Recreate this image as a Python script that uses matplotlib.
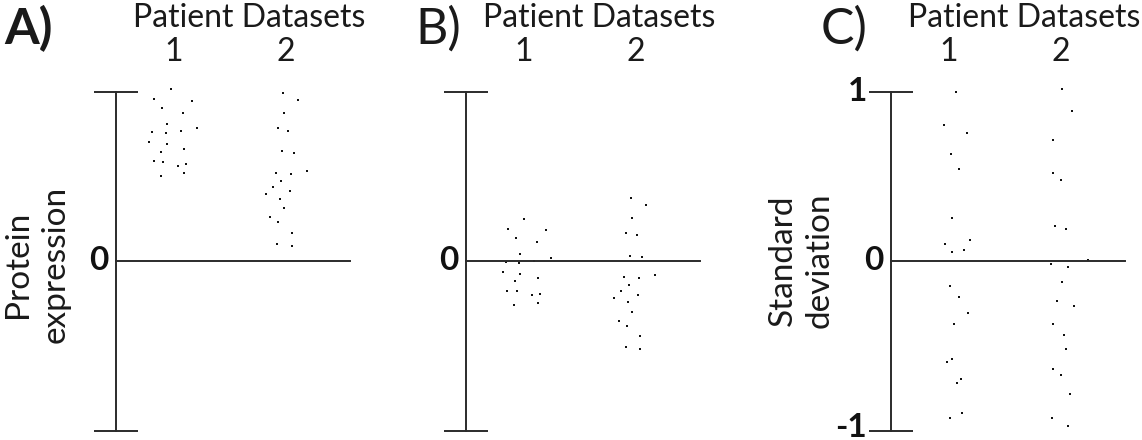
import matplotlib
matplotlib.use("Agg")
import matplotlib.pyplot as plt
from matplotlib.transforms import blended_transform_factory

plt.rcParams['font.family'] = ['Lato', 'DejaVu Sans']

# ---- data (y values, x jitter around the category) ----
categories = [1, 2]
cat_labels = ['1', '2']

# A) protein expression
a1_y = [1.015, 0.956, 0.946, 0.903, 0.875, 0.808, 0.783, 0.759, 0.755, 0.765,
        0.702, 0.688, 0.645, 0.663, 0.588, 0.586, 0.572, 0.562, 0.503, 0.519]
a1_dx = [-0.021, -0.172, 0.169, -0.098, 0.089, -0.059, 0.213, -0.186, -0.068, 0.065,
         -0.213, -0.059, -0.107, 0.098, -0.172, -0.092, 0.112, 0.044, -0.112, 0.098]
a2_y = [0.993, 0.948, 0.871, 0.785, 0.769, 0.649, 0.637, 0.533, 0.521, 0.511, 0.474,
        0.435, 0.411, 0.395, 0.368, 0.313, 0.258, 0.228, 0.167, 0.102, 0.087]
a2_dx = [-0.030, 0.104, -0.021, -0.068, 0.021, -0.036, 0.068, 0.183, -0.089, 0.041, -0.044,
         -0.118, 0.036, -0.180, -0.056, -0.021, -0.139, -0.068, 0.050, -0.077, 0.050]

# B) centred data
b1_y = [0.248, 0.191, 0.181, 0.138, 0.112, 0.041, -0.006, -0.010, 0.002, 0.016,
        -0.063, -0.079, -0.102, -0.120, -0.177, -0.177, -0.203, -0.193, -0.246, -0.260]
b1_dx = [0.009, -0.139, 0.202, -0.068, 0.119, -0.030, -0.157, -0.036, 0.098, 0.243,
         -0.184, -0.030, 0.134, -0.077, -0.142, -0.059, 0.074, 0.151, 0.134, -0.086]
b2_y = [0.374, 0.328, 0.252, 0.165, 0.151, 0.029, 0.022, -0.081, -0.094, -0.102, -0.140,
        -0.179, -0.201, -0.220, -0.242, -0.299, -0.354, -0.383, -0.441, -0.505, -0.521]
b2_dx = [-0.045, 0.089, -0.036, -0.086, 0.006, -0.050, 0.056, 0.166, -0.107, 0.024, -0.065,
         -0.134, 0.018, -0.196, -0.071, -0.036, -0.151, -0.083, 0.036, -0.092, 0.033]

# C) standard deviation
c1_y = [1.000, 0.800, 0.753, 0.632, 0.543, 0.253, 0.099, 0.123, 0.051, 0.063,
        -0.148, -0.215, -0.304, -0.370, -0.593, -0.581, -0.719, -0.696, -0.927, -0.895]
c1_dx = [0.065, -0.038, 0.163, 0.021, 0.092, 0.030, -0.030, 0.192, 0.036, 0.142,
         0.015, 0.095, 0.175, 0.053, -0.009, 0.030, 0.074, 0.112, 0.015, 0.121]
c2_y = [1.014, 0.887, 0.711, 0.522, 0.476, 0.209, 0.186, -0.018, 0.008, -0.038, -0.125,
        -0.237, -0.267, -0.372, -0.439, -0.518, -0.636, -0.670, -0.785, -0.929, -0.974]
c2_dx = [0.012, 0.101, -0.068, -0.068, 0.000, -0.056, 0.044, -0.086, 0.243, 0.065, 0.012,
         -0.038, 0.115, -0.068, 0.030, 0.044, -0.068, -0.003, 0.080, -0.080, 0.065]

panels = [
    ('A)', 'bold', ['', '0', ''], [(a1_y, a1_dx), (a2_y, a2_dx)]),
    ('B)', 'normal', ['', '0', ''], [(b1_y, b1_dx), (b2_y, b2_dx)]),
    ('C)', 'normal', ['-1', '0', '1'], [(c1_y, c1_dx), (c2_y, c2_dx)]),
]

# ---- layout (pixels) ----
W, H = 1142, 440
S = 112.7      # px per category unit
U = 169.5      # px per y unit
Z = 261        # zero line, px from top
cat1_px = [173.3, 523.3, 948.3]
XLIM = (0.3, 2.7)
YLIM = (-1.08, 1.08)
AX_X = 0.49
AX_END = 2.57
ink = '#2b2b2b'
txt_col = '#1a1a1a'

fig = plt.figure(figsize=(W / 100, H / 100), dpi=100)

for i, (letter, wt, ylabels, groups) in enumerate(panels):
    left = cat1_px[i] - (1 - XLIM[0]) * S
    width = (XLIM[1] - XLIM[0]) * S
    height = (YLIM[1] - YLIM[0]) * U
    bottom = H - (Z + (-YLIM[0]) * U)
    ax = fig.add_axes([left / W, bottom / H, width / W, height / H])
    ax.set_xlim(*XLIM)
    ax.set_ylim(*YLIM)
    ax.patch.set_alpha(0)

    # axis frame: vertical spine with caps, horizontal line at zero
    for s in ['top', 'right']:
        ax.spines[s].set_visible(False)
    ax.spines['left'].set_position(('data', AX_X))
    ax.spines['left'].set_bounds(-1, 1)
    ax.spines['bottom'].set_position(('data', 0))
    ax.spines['bottom'].set_bounds(AX_X, AX_END)
    for s in ['left', 'bottom']:
        ax.spines[s].set_linewidth(1.4)
        ax.spines[s].set_color(ink)
    ax.set_xticks([])
    ax.set_yticks([])
    ax.set_yticks([-1, 1], minor=True)
    ax.tick_params(axis='y', which='minor', direction='inout', length=31,
                   width=1.4, color=ink, labelleft=False)

    # y labels (0, and +-1 in panel C)
    for yv, txt in zip([-1, 0, 1], ylabels):
        if txt == '':
            continue
        off = -5 if yv == 0 else -17
        dy = 2 if yv == -1 else 0
        ax.annotate(txt, (AX_X, yv), xytext=(off, dy), textcoords='offset points',
                    ha='right', va='center', fontsize=24, fontweight='bold',
                    color='#111111', annotation_clip=False)

    # points
    for c, (ys, dxs) in zip(categories, groups):
        xs = [c + d for d in dxs]
        ax.plot(xs, ys, linestyle='none', marker='s', ms=2.0, mew=0,
                color='#111111', clip_on=False)

    # header texts
    tr = blended_transform_factory(ax.transData, fig.transFigure)
    ax.text(1.67, 1 - 27 / H, 'Patient Datasets', transform=tr, ha='center',
            va='baseline', fontsize=23, color=txt_col)
    for c, lab in zip(categories, cat_labels):
        ax.text(c, 1 - 61 / H, lab, transform=tr, ha='center', va='baseline',
                fontsize=23, color=txt_col)

letter_x = [4, 415, 821]
for i, (letter, wt, _, _) in enumerate(panels):
    fig.text(letter_x[i] / W, 1 - 44 / H, letter, ha='left', va='baseline',
             fontsize=36, fontweight=wt, color=txt_col)

fig.text(37 / W, 1 - 264 / H, 'Protein\nexpression', rotation=90, ha='center',
         va='center', multialignment='center', fontsize=24, color=txt_col,
         linespacing=1.3)
fig.text(801 / W, 1 - 260 / H, 'Standard\ndeviation', rotation=90, ha='center',
         va='center', multialignment='center', fontsize=24, color=txt_col,
         linespacing=1.3)

fig.savefig('out.png', dpi=100)
